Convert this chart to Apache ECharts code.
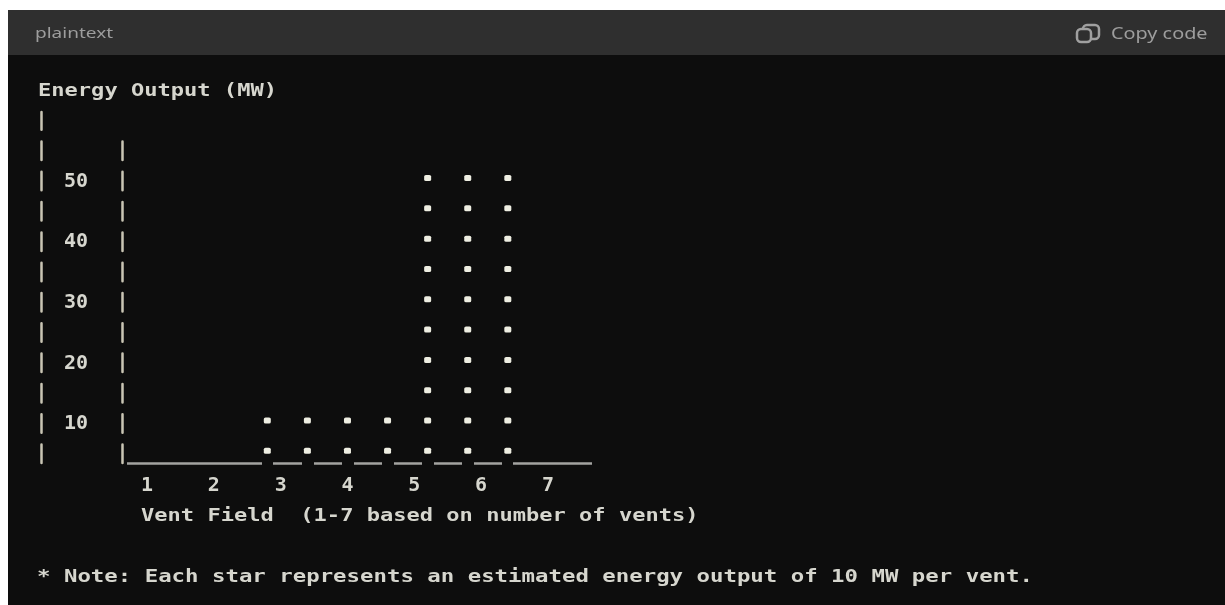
<!DOCTYPE html>
<html><head><meta charset="utf-8">
<style>html,body{margin:0;padding:0;background:#fff}#c{width:1225px;height:605px;filter:blur(0.5px)}</style>
<script src="https://cdn.jsdelivr.net/npm/echarts@6/dist/echarts.min.js"></script></head>
<body><div id="c"></div>
<script>
const fieldTicks = [1, 2, 3, 4, 5, 6, 7];
const energyTicks = [10, 20, 30, 40, 50];
const pointField = [2.8, 2.8, 3.4, 3.4, 4.0, 4.0, 4.6, 4.6,
  5.2, 5.2, 5.2, 5.2, 5.2, 5.2, 5.2, 5.2, 5.2, 5.2,
  5.8, 5.8, 5.8, 5.8, 5.8, 5.8, 5.8, 5.8, 5.8, 5.8,
  6.4, 6.4, 6.4, 6.4, 6.4, 6.4, 6.4, 6.4, 6.4, 6.4];
const pointEnergy = [5, 10, 5, 10, 5, 10, 5, 10,
  5, 10, 15, 20, 25, 30, 35, 40, 45, 50,
  5, 10, 15, 20, 25, 30, 35, 40, 45, 50,
  5, 10, 15, 20, 25, 30, 35, 40, 45, 50];
const yTitle = 'Energy Output (MW)';
const xTitle = 'Vent Field  (1-7 based on number of vents)';
const note = '* Note: Each star represents an estimated energy output of 10 MW per vent.';

const mono = '"DejaVu Sans Mono", monospace';
const ink = '#d6d6ce';
const barLine = '#c9c5b4';
function monoText(text, x, y, sx) {
  return { type: 'text', x: x, y: y, scaleX: sx, z: 5,
    style: { text: text, fill: ink, font: 'bold 18px ' + mono, verticalAlign: 'middle' } };
}
function uiText(text, x, y, sx, size) {
  return { type: 'text', x: x, y: y, scaleX: sx, z: 5,
    style: { text: text, fill: '#9d9d9d', font: size + 'px "Noto Sans", sans-serif', verticalAlign: 'middle' } };
}
const chart = echarts.init(document.getElementById('c'), null, { renderer: 'canvas' });
chart.setOption({
  animation: false,
  backgroundColor: '#ffffff',
  graphic: [
    { type: 'rect', z: 0, shape: { x: 8, y: 10, width: 1217, height: 45 }, style: { fill: '#2f2f2f' } },
    { type: 'rect', z: 0, shape: { x: 8, y: 55, width: 1217, height: 550 }, style: { fill: '#0d0d0d' } },
    uiText('plaintext', 35, 34, 1.36, 14),
    uiText('Copy code', 1111, 34, 1.24, 16),
    { type: 'rect', z: 5, shape: { x: 1083, y: 25, width: 16, height: 14, r: 4 }, style: { fill: 'none', stroke: '#a0a0a0', lineWidth: 2.5 } },
    { type: 'rect', z: 6, shape: { x: 1077, y: 29, width: 14, height: 13, r: 4 }, style: { fill: '#2f2f2f', stroke: '#a0a0a0', lineWidth: 2.5 } },
    monoText(yTitle, 38, 91, 1.225),
    monoText(xTitle, 141, 516, 1.225),
    monoText(note, 37, 577, 1.242)
  ],
  grid: [
    { left: 127, top: 141, width: 465, height: 322 },
    { left: 127, top: 112, width: 465, height: 351 }
  ],
  xAxis: [
    { type: 'value', gridIndex: 0, min: 0.7, max: 7.66,
      splitLine: { show: false }, axisTick: { show: false },
      axisLine: { show: true, onZero: false, lineStyle: { color: '#a3a3a0', width: 2.5, cap: 'butt',
        type: [135, 11, 29, 12, 28, 12, 28, 12, 28, 12, 28, 12, 28, 11, 80, 0] } },
      axisLabel: { customValues: fieldTicks, color: ink, fontFamily: mono, fontWeight: 'bold', fontSize: 20, margin: 13 } },
    { type: 'value', gridIndex: 1, min: 0, max: 1, show: false }
  ],
  yAxis: [
    { type: 'value', gridIndex: 0, min: 3, max: 56.1, offset: 5,
      splitLine: { show: false }, axisTick: { show: false },
      axisLine: { show: true, onZero: false, lineStyle: { color: barLine, width: 2.5, type: [18.5, 11.8] } },
      axisLabel: { customValues: energyTicks, color: ink, fontFamily: mono, fontWeight: 'bold', fontSize: 20, margin: 34, verticalAlign: 'top', lineHeight: 7 } },
    { type: 'value', gridIndex: 1, min: 0, max: 1, offset: 86,
      splitLine: { show: false }, axisTick: { show: false }, axisLabel: { show: false },
      axisLine: { show: true, onZero: false, lineStyle: { color: barLine, width: 2.5, type: [18.5, 11.8] } } }
  ],
  series: [{
    type: 'scatter', xAxisIndex: 0, yAxisIndex: 0, symbol: 'roundRect', symbolSize: [7, 6],
    itemStyle: { color: '#eeeee2', opacity: 1 },
    data: pointField.map((f, i) => [f, pointEnergy[i]])
  }]
});
</script></body></html>
